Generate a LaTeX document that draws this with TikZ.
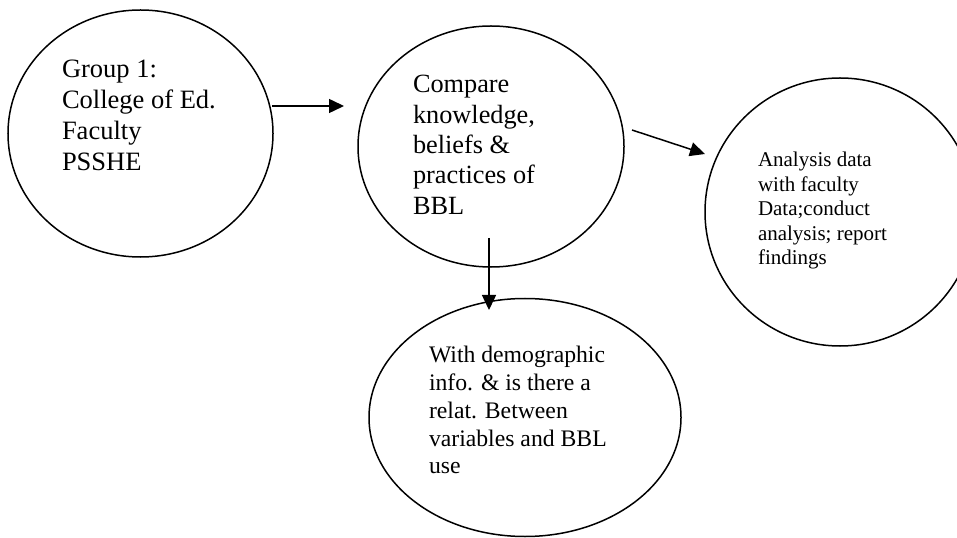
\documentclass[tikz,border=0pt]{standalone}
\usepackage{fontspec}
\setmainfont{Liberation Serif}
\usetikzlibrary{shapes.geometric,arrows.meta}
\begin{document}
\begin{tikzpicture}[x=1bp,y=-1bp,
  ell/.style={draw, ellipse, line width=1.5bp, inner sep=0pt, outer sep=0pt},
  lbl/.style={anchor=base west, inner sep=0pt, outer sep=0pt},
  arr/.style={line width=1.5bp, -{Triangle[length=15bp,width=14bp]}}]
\useasboundingbox (0,0) rectangle (957,538);
\clip (0,0) rectangle (957,538);
\node[ell, minimum width=265bp, minimum height=247bp] (e1) at (140.5,133.5) {};
\node[ell, minimum width=266bp, minimum height=241bp] (e2) at (491,146.5) {};
\node[ell, minimum width=270bp, minimum height=268bp] (e3) at (840,212) {};
\node[ell, minimum width=312bp, minimum height=238bp] (e4) at (525,417.5) {};
\node[lbl, font=\fontsize{26.5bp}{30.7bp}\selectfont] (t1) at (62,78)
  {\begin{tabular}[t]{@{}l@{}}Group 1:\\ College of Ed.\\ Faculty\\ PSSHE\end{tabular}};
\node[lbl, font=\fontsize{26.3bp}{30.3bp}\selectfont] (t2) at (413,93)
  {\begin{tabular}[t]{@{}l@{}}Compare\\ knowledge,\\ beliefs \&\\ practices of\\ BBL\end{tabular}};
\node[lbl, font=\fontsize{21bp}{24.4bp}\selectfont] (t3) at (758,167)
  {\begin{tabular}[t]{@{}l@{}}Analysis data\\ with faculty\\ Data;conduct\\ analysis; report\\ findings\end{tabular}};
\node[lbl, font=\fontsize{23.7bp}{27.7bp}\selectfont] (t4) at (429,363)
  {\begin{tabular}[t]{@{}l@{}}With demographic\\ info. \& is there a\\ relat. Between\\ variables and BBL\\ use\end{tabular}};
\coordinate (a1s) at (272,106);
\coordinate (a1e) at (344,106);
\coordinate (a2s) at (632,130);
\coordinate (a2e) at (705,154);
\coordinate (a3s) at (489,238);
\coordinate (a3e) at (489,310);
\draw[arr] (a1s) -- (a1e);
\draw[arr] (a2s) -- (a2e);
\draw[arr] (a3s) -- (a3e);
\end{tikzpicture}
\end{document}
